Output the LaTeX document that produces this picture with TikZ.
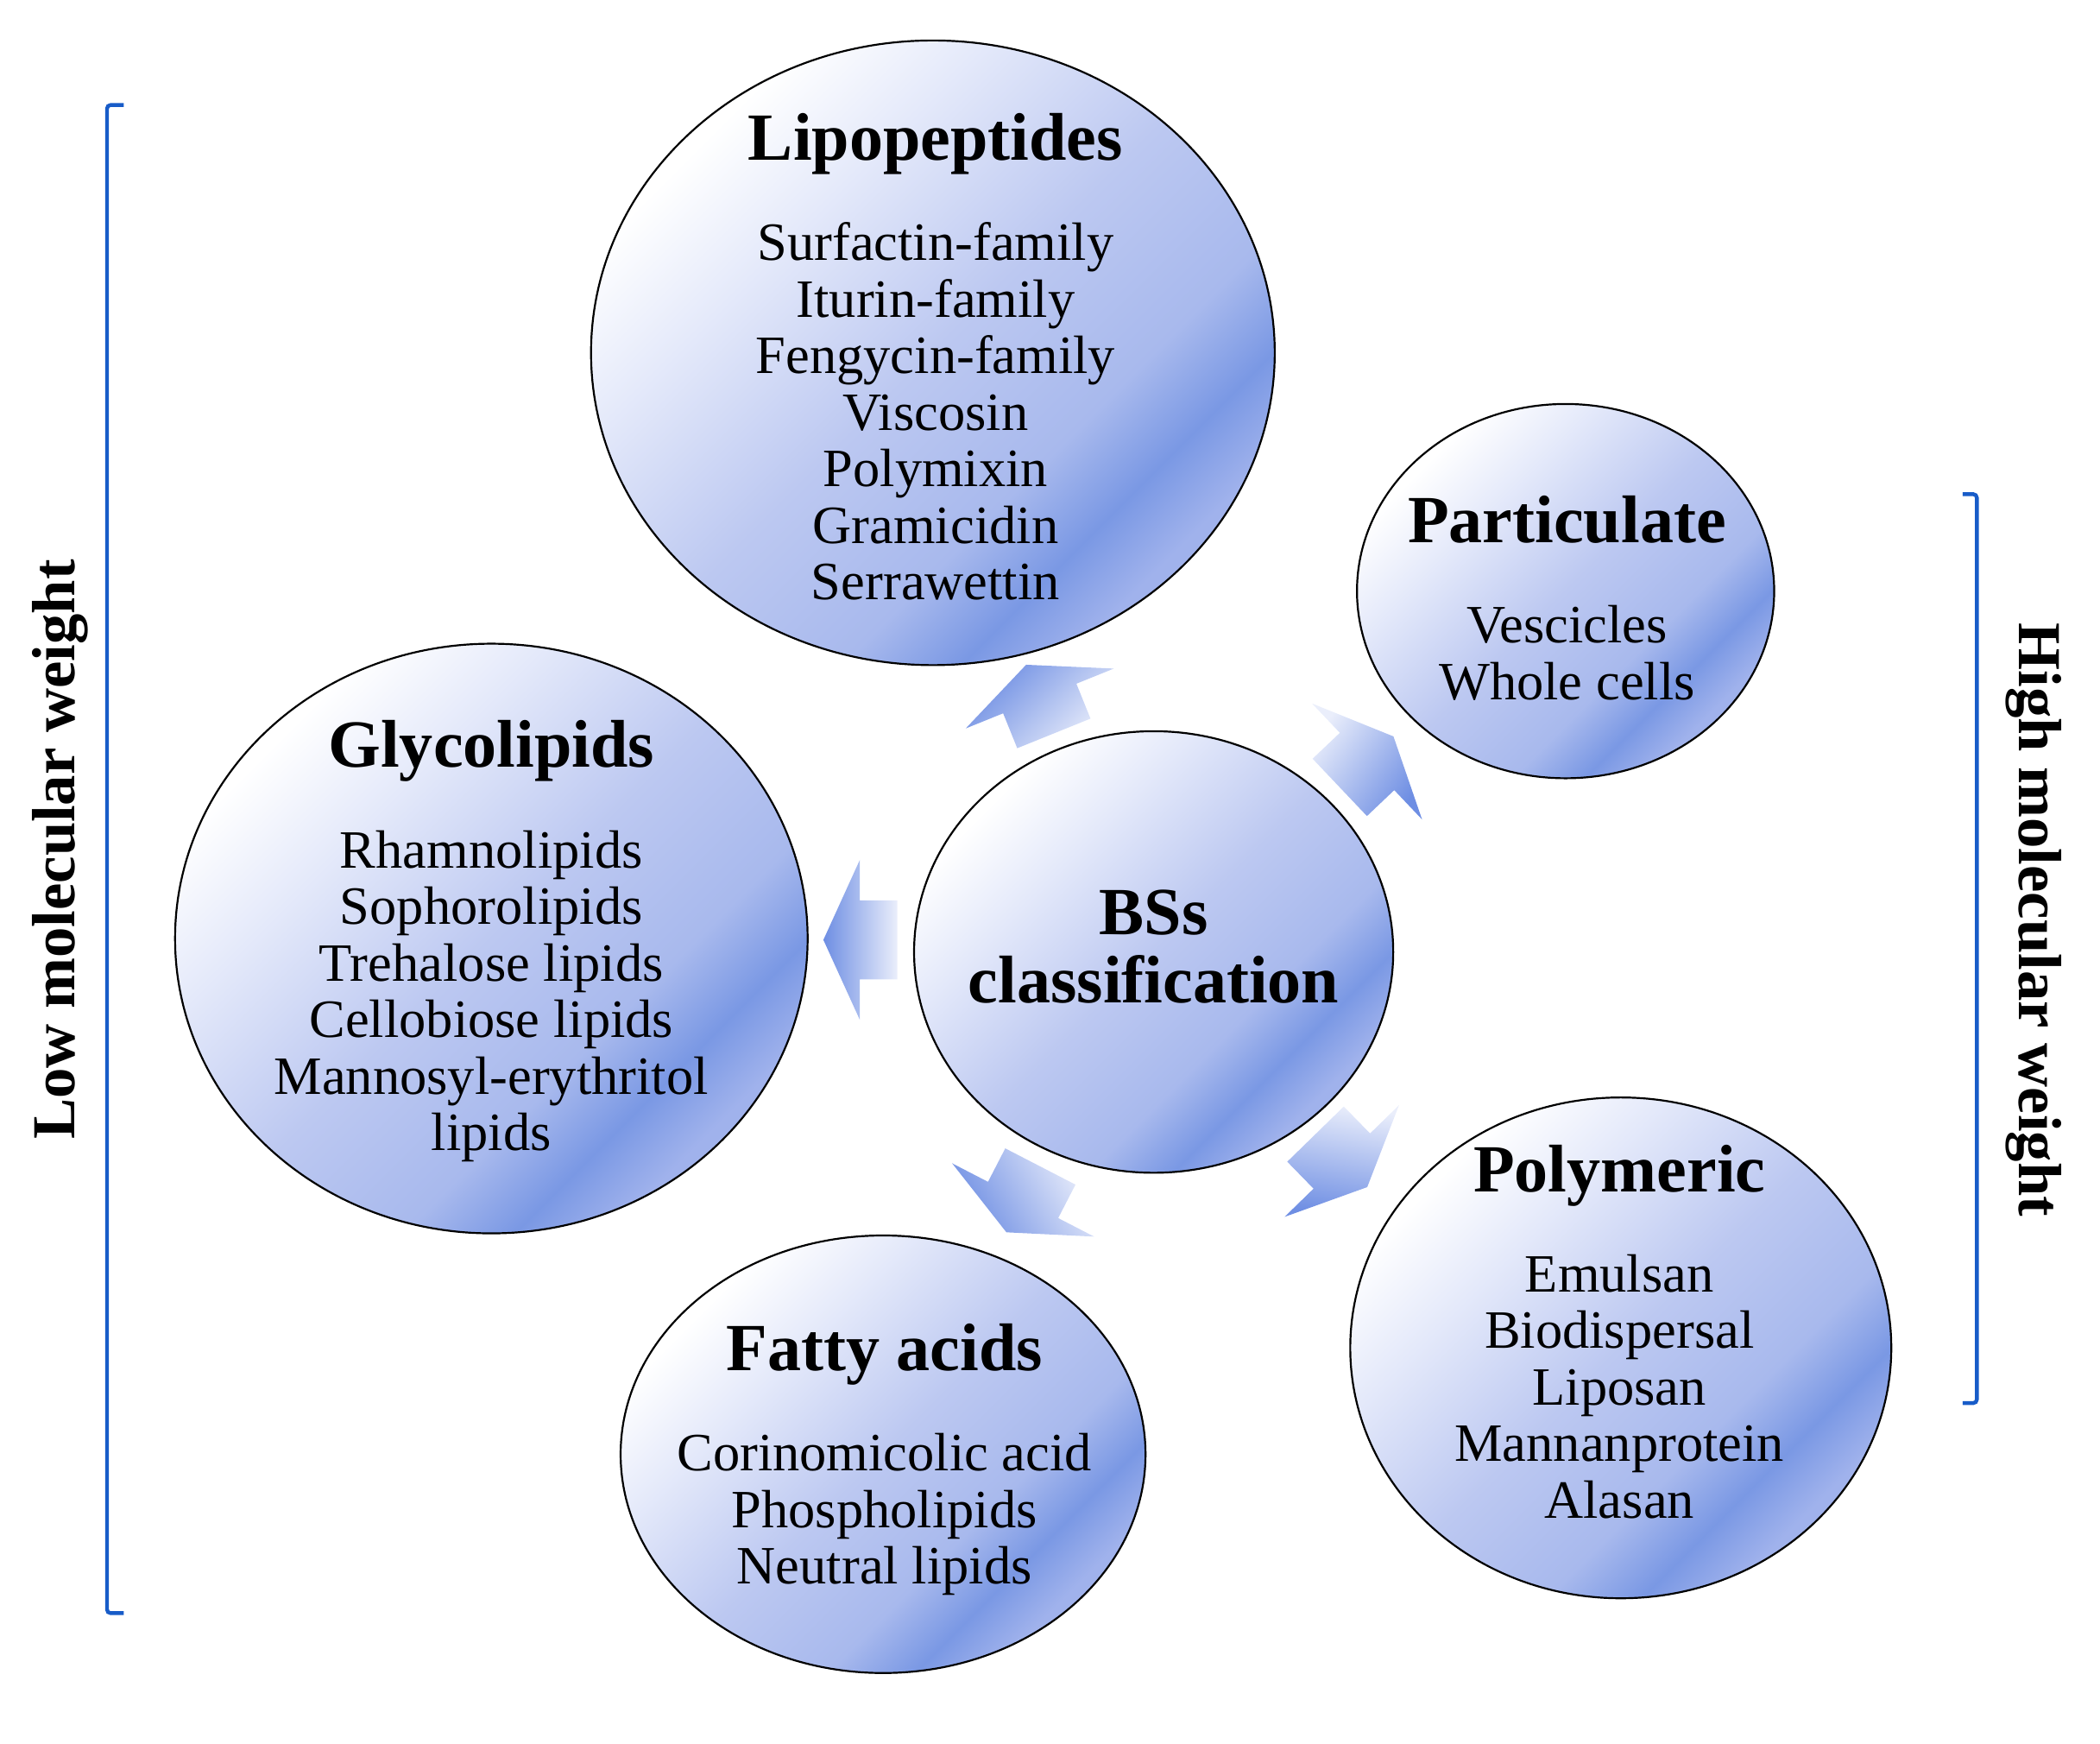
\documentclass[tikz,border=0pt]{standalone}
\usepackage{fontspec}
\setmainfont{Liberation Serif}
\usetikzlibrary{shapes.geometric,shapes.arrows}

\definecolor{bubPale}{RGB}{228,233,250}
\definecolor{bubLight}{RGB}{188,200,241}
\definecolor{bubMid}{RGB}{168,185,237}
\definecolor{bubDark}{RGB}{122,152,228}
\definecolor{bubEdge}{RGB}{160,178,236}
\definecolor{arrowDark}{RGB}{110,142,227}
\definecolor{arrowLight}{RGB}{234,238,251}
\definecolor{bracketBlue}{RGB}{24,92,200}

\pgfdeclarehorizontalshading{bubbleshade}{100bp}{color(0bp)=(white); color(26bp)=(white); color(36bp)=(bubPale); color(50bp)=(bubLight); color(62bp)=(bubMid); color(68.5bp)=(bubDark); color(74bp)=(bubEdge); color(100bp)=(bubEdge)}

\newcommand{\titlefont}{\fontsize{28.5}{29}\selectfont\bfseries}
\newcommand{\itemfont}{\fontsize{22.8}{23.9}\selectfont}
\newcommand{\sidefont}{\fontsize{25.8}{28}\selectfont\bfseries}

\tikzset{
  bubble/.style={ellipse, draw=black, line width=0.8pt, shade, shading=bubbleshade, shading angle=-45, inner sep=0pt},
  listtext/.style={align=center, font=\itemfont, inner sep=0pt},
  fatarrow/.style={single arrow, draw=none, inner xsep=0pt, inner ysep=0.58cm, minimum height=1.1cm,
    single arrow head extend=0.6cm, single arrow tip angle=131, anchor=tail,
    top color=arrowDark, bottom color=arrowLight},
  bracket/.style={draw=bracketBlue, line width=1.6pt, rounded corners=1.5pt},
  sidelabel/.style={font=\sidefont, inner sep=0pt}
}

\begin{document}
\begin{tikzpicture}[x=0.02cm, y=-0.02cm]
    \useasboundingbox (0,0) rectangle (1560,1294.6);

    % Classes
    \node[bubble, minimum width=10.16cm, minimum height=9.28cm] (lipo) at (693,262) {};
    \node[bubble, minimum width=6.2cm, minimum height=5.56cm] (partic) at (1163,439) {};
    \node[bubble, minimum width=9.4cm, minimum height=8.76cm] (glyco) at (365,697) {};
    \node[bubble, minimum width=7.12cm, minimum height=6.56cm] (bss) at (857,707) {};
    \node[bubble, minimum width=7.8cm, minimum height=6.5cm] (fatty) at (656,1080) {};
    \node[bubble, minimum width=8.04cm, minimum height=7.44cm] (polym) at (1204,1001) {};

    % Texts
    \node[listtext] (lipo-txt) at (695,265) {{\titlefont Lipopeptides}\\[18.6pt]
        Surfactin-family\\ Iturin-family\\ Fengycin-family\\ Viscosin\\ Polymixin\\ Gramicidin\\ Serrawettin};
    \node[listtext] (partic-txt) at (1164,444) {{\titlefont Particulate}\\[18.6pt]
        Vescicles\\ Whole cells};
    \node[listtext] (glyco-txt) at (365,699) {{\titlefont Glycolipids}\\[18.6pt]
        Rhamnolipids\\ Sophorolipids\\ Trehalose lipids\\ Cellobiose lipids\\ Mannosyl-erythritol\\ lipids};
    \node[listtext, font=\titlefont] (bss-txt) at (857,703) {BSs\\ classification};
    \node[listtext] (fatty-txt) at (657,1084) {{\titlefont Fatty acids}\\[18.6pt]
        Corinomicolic acid\\ Phospholipids\\ Neutral lipids};
    \node[listtext] (polym-txt) at (1203,989) {{\titlefont Polymeric}\\[18.6pt]
        Emulsan\\ Biodispersal\\ Liposan\\ Mannanprotein\\ Alasan};

    % Arrows out of the centre
    \node[fatarrow, rotate=180, shading angle=90] (to-glyco) at (667,698) {};
    \node[fatarrow, rotate=112, shading angle=45] (to-lipo) at (783,545) {};
    \node[fatarrow, rotate=43.5, shading angle=-125] (to-partic) at (995,585) {};
    \node[fatarrow, rotate=-45.7, shading angle=170] (to-polym) at (977,842) {};
    \node[fatarrow, rotate=-117.3, shading angle=120] (to-fatty) at (773,866) {};

    % Brackets
    \draw[bracket] (92,78) -- (79.5,78) -- (79.5,1198) -- (92,1198);
    \draw[bracket] (1458,367) -- (1468.5,367) -- (1468.5,1042) -- (1458,1042);
    \node[sidelabel, rotate=90] (low-mw) at (45,631) {Low molecular weight};
    \node[sidelabel, rotate=-90] (high-mw) at (1511,683) {High molecular weight};
\end{tikzpicture}
\end{document}
